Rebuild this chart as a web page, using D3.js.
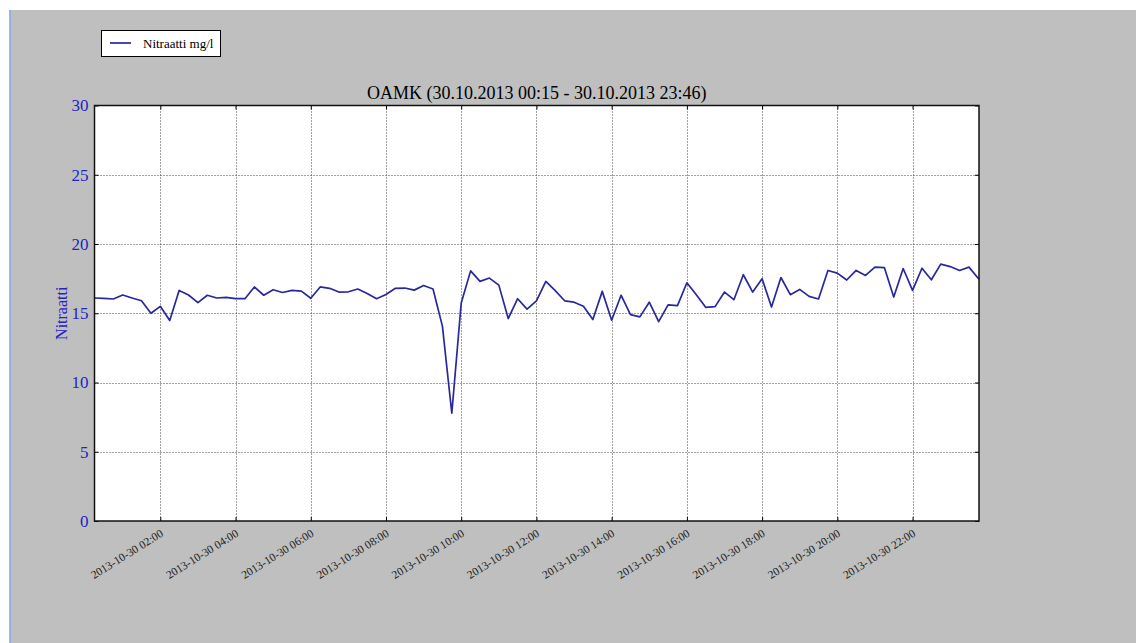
<!DOCTYPE html>
<html>
<head>
<meta charset="utf-8">
<script src="https://cdn.jsdelivr.net/npm/d3@7"></script>
<style>
  html, body { margin: 0; padding: 0; background: #fff; }
  svg { display: block; }
</style>
</head>
<body>
<svg id="chart" width="1136" height="643"></svg>
<script>
// measurements every 15 min, 30.10.2013 00:15 .. 23:46
var startTime = "2013-10-30 00:15";
var endTime = "2013-10-30 23:46";
var nitrate = [
  16.10, 16.08, 16.03, 16.32, 16.10, 15.90, 15.00, 15.50, 14.47, 16.65,
  16.32, 15.77, 16.30, 16.10, 16.15, 16.05, 16.05, 16.90, 16.30, 16.70,
  16.50, 16.65, 16.60, 16.08, 16.90, 16.80, 16.53, 16.55, 16.75, 16.43,
  16.05, 16.36, 16.80, 16.82, 16.67, 17.00, 16.75, 14.07, 7.78, 15.74,
  18.06, 17.30, 17.54, 17.03, 14.62, 16.05, 15.30, 15.90, 17.30, 16.63,
  15.90, 15.80, 15.50, 14.55, 16.58, 14.50, 16.30, 14.90, 14.74, 15.80,
  14.40, 15.60, 15.55, 17.20, 16.34, 15.43, 15.48, 16.53, 15.98, 17.78,
  16.53, 17.49, 15.45, 17.58, 16.34, 16.72, 16.22, 16.03, 18.09, 17.90,
  17.40, 18.09, 17.73, 18.33, 18.30, 16.17, 18.23, 16.65, 18.25, 17.42,
  18.55, 18.37, 18.09, 18.33, 17.46
];
var yTicks = [0, 5, 10, 15, 20, 25, 30];
var xTickHours = [2, 4, 6, 8, 10, 12, 14, 16, 18, 20, 22];
var seriesName = "Nitraatti mg/l";
var yLabel = "Nitraatti";
var title = "OAMK (30.10.2013 00:15 - 30.10.2013 23:46)";

var parse = d3.timeParse("%Y-%m-%d %H:%M");
var t0 = parse(startTime), t1 = parse(endTime);
var data = nitrate.map(function(v, i) {
  var t = i == nitrate.length - 1 ? t1 : d3.timeMinute.offset(t0, i * 15);
  return { t: t, v: v };
});

var svg = d3.select("#chart");
var serif = "'Liberation Serif', 'DejaVu Serif', serif";
var blue = "#2323c8";
var lineColor = "#28289e";

// background
svg.append("rect").attr("x", 10).attr("y", 10).attr("width", 1126).attr("height", 633).attr("fill", "#bfbfbf");
svg.append("line").attr("x1", 10).attr("x2", 10).attr("y1", 10).attr("y2", 643)
  .attr("stroke", "#7ea6e0").attr("stroke-width", 1.5);

var L = 94.5, R = 979, T = 105.5, B = 521;

var x = d3.scaleTime().domain([t0, t1]).range([L, R]);
var y = d3.scaleLinear().domain([0, 30]).range([B, T]);

svg.append("rect").attr("x", L).attr("y", T).attr("width", R - L).attr("height", B - T).attr("fill", "#fff");

var xTicks = xTickHours.map(function(h) { return d3.timeHour.offset(d3.timeDay.floor(t0), h); });

// grid
var grid = svg.append("g").attr("stroke", "#444").attr("stroke-width", 1).attr("stroke-dasharray", "1,2");
grid.selectAll(".gx").data(xTicks).enter().append("line")
  .attr("x1", function(d) { return Math.round(x(d)) + 0.5; })
  .attr("x2", function(d) { return Math.round(x(d)) + 0.5; })
  .attr("y1", T).attr("y2", B);
grid.selectAll(".gy").data(yTicks.slice(1, -1)).enter().append("line")
  .attr("y1", function(d) { return Math.round(y(d)) + 0.5; })
  .attr("y2", function(d) { return Math.round(y(d)) + 0.5; })
  .attr("x1", L).attr("x2", R);

// axes (ticks pointing inward)
var fmt = d3.timeFormat("%Y-%m-%d %H:%M");
var xAxis = svg.append("g").attr("transform", "translate(0," + B + ")")
  .call(d3.axisBottom(x).tickValues(xTicks).tickSize(-4).tickPadding(6).tickFormat(fmt));
xAxis.select(".domain").remove();
xAxis.selectAll("line").attr("stroke", "#000");
xAxis.selectAll("text")
  .attr("font-family", serif).attr("font-size", 11.5).attr("fill", "#222")
  .attr("text-anchor", "end")
  .attr("transform", "translate(-2,6) rotate(-32)")
  .attr("dy", "0.35em");

var xTop = svg.append("g").attr("transform", "translate(0," + T + ")")
  .call(d3.axisTop(x).tickValues(xTicks).tickSize(-4).tickFormat(""));
xTop.select(".domain").remove();

var yAxis = svg.append("g").attr("transform", "translate(" + L + ",0)")
  .call(d3.axisLeft(y).tickValues(yTicks).tickSize(-4).tickPadding(6));
yAxis.select(".domain").remove();
yAxis.selectAll("text").attr("font-family", serif).attr("font-size", 17).attr("fill", blue);

var yRight = svg.append("g").attr("transform", "translate(" + R + ",0)")
  .call(d3.axisRight(y).tickValues(yTicks).tickSize(-4).tickFormat(""));
yRight.select(".domain").remove();

// line
var line = d3.line().x(function(d) { return x(d.t); }).y(function(d) { return y(d.v); });
svg.append("path").datum(data).attr("d", line)
  .attr("fill", "none").attr("stroke", lineColor).attr("stroke-width", 1.7).attr("stroke-linejoin", "round");

// frame
svg.append("rect").attr("x", L).attr("y", T).attr("width", R - L).attr("height", B - T)
  .attr("fill", "none").attr("stroke", "#111").attr("stroke-width", 1.5);

// title
svg.append("text").attr("x", (L + R) / 2).attr("y", 99).attr("text-anchor", "middle")
  .attr("font-family", serif).attr("font-size", 18).attr("fill", "#000").text(title);

// y label
svg.append("text").attr("transform", "translate(67," + ((T + B) / 2) + ") rotate(-90)")
  .attr("text-anchor", "middle").attr("font-family", serif).attr("font-size", 16)
  .attr("fill", blue).text(yLabel);

// legend
var lg = svg.append("g");
lg.append("rect").attr("x", 101.5).attr("y", 30.5).attr("width", 119).attr("height", 26)
  .attr("fill", "#fff").attr("stroke", "#000").attr("stroke-width", 1);
lg.append("line").attr("x1", 110).attr("x2", 131).attr("y1", 43).attr("y2", 43)
  .attr("stroke", lineColor).attr("stroke-width", 1.7);
lg.append("text").attr("x", 143).attr("y", 47.5).attr("font-family", serif).attr("font-size", 13)
  .attr("fill", "#000").text(seriesName);
</script>
</body>
</html>
